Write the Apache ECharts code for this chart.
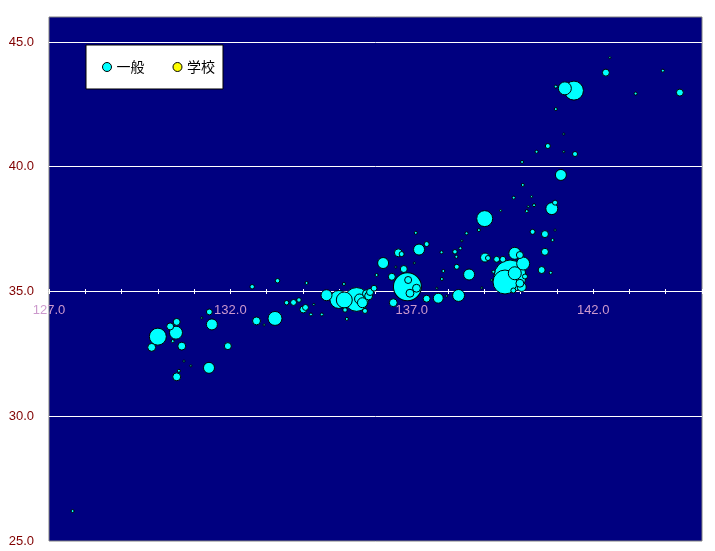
<!DOCTYPE html>
<html>
<head>
<meta charset="utf-8">
<script src="https://cdn.jsdelivr.net/npm/echarts@6/dist/echarts.min.js"></script>
<style>
html,body{margin:0;padding:0;background:#fff;}
#c{width:715px;height:551px;}
</style>
</head>
<body>
<div id="c"></div>
<script>
// ---- data ----
const seriesNames = ['一般', '学校'];
const xTickStart = 127, xTickEnd = 145, xTickStep = 1, xLabelStep = 5;
const yTickStart = 25, yTickEnd = 46, yTickStep = 5;
const xCrossAt = 35;

// 一般: longitude (x), latitude (y), bubble size value
const ippanX = [127.65,144.39,142.35,143.92,143.17,142.46,141.47,141.22,140.97,140.97,141.19,140.75,140.44,141.19,141.50,140.04,141.11,140.06,139.81,140.30,140.37,140.17,140.21,139.45,140.86,140.95,139.01,138.51,138.85,140.33,140.67,140.95,140.88,140.67,140.58,140.83,139.84,139.98,139.34,139.51,139.02,139.10,140.07,138.58,139.25,139.20,139.71,139.57,139.84,139.98,140.03,140.12,139.80,138.29,138.93,137.69,137.96,137.73,137.41,138.19,138.23,138.34,138.38,137.82,138.24,137.87,137.83,137.20,137.41,137.11,137.07,136.63,136.72,136.21,136.78,136.56,136.45,136.03,136.88,136.90,137.13,136.95,136.49,135.71,135.16,135.21,135.13,134.65,134.99,135.14,135.48,135.75,135.81,135.56,135.64,135.85,135.96,132.60,133.30,134.10,133.55,133.74,133.89,134.01,134.07,134.22,134.52,134.30,132.72,133.23,132.93,131.42,131.49,131.21,130.00,129.83,130.34,130.52,130.50,130.41,130.66,131.93,131.41,130.52,130.58,130.72,130.91];
const ippanY = [26.20,42.97,43.77,43.85,42.93,44.37,43.05,43.14,43.21,42.31,41.31,40.83,40.60,40.60,40.51,40.19,39.67,39.27,38.76,38.80,38.46,38.22,38.40,38.24,38.32,38.56,37.92,37.33,37.46,37.39,37.30,37.46,37.06,36.59,35.86,35.75,36.53,36.46,36.29,36.29,36.36,36.34,36.12,35.68,35.79,35.46,35.62,35.38,35.73,35.33,35.18,35.60,35.04,34.84,35.14,35.13,34.82,34.73,34.71,36.59,36.39,36.73,37.03,36.57,35.99,35.82,35.50,36.68,36.90,37.35,36.14,36.55,36.50,36.14,35.90,35.98,35.59,35.66,35.19,35.46,35.13,34.93,34.55,34.22,34.26,33.90,35.30,34.85,34.68,34.66,34.68,34.91,34.82,34.70,34.55,34.98,35.13,35.19,35.43,35.34,34.55,34.56,34.66,34.28,34.36,34.08,34.08,34.48,33.82,33.92,33.66,34.18,33.68,33.94,33.19,32.76,33.60,33.78,33.35,33.01,32.81,32.81,31.94,31.58,31.82,32.21,32.02];
const ippanSize = [1,9,9,1,1,0.3,81,36,1,1,0.3,4,1,0.3,4,1,25,1,1,0.3,1,1,0.3,0.3,30,4,56,1,1,4,9,0.3,1,9,9,1,30,9,6,6,16,4,36,25,1,0.3,240,132,36,12,16,4,4,30,0.3,0.3,0.3,20,9,3,1,1,0.3,1,4,1,1,25,4,1,0.3,12,4,25,9,0.3,9,1,182,9,12,12,12,4,3,1,1,25,72,56,130,12,12,20,20,9,6,3,3,1,3,6,3,9,6,1,1,0.3,12,42,0.3,6,25,0.3,64,12,9,9,36,1,12,9,25,12,1,0.3,0.3];

// 学校: no visible points
const gakkouX = [];
const gakkouY = [];
const gakkouSize = [];

// ---- build ----
function rows(xs, ys, ss) {
  const r = xs.map((x, i) => [x, ys[i], ss[i]]);
  r.sort((a, b) => b[2] - a[2]);
  return r;
}
const W = 715, H = 551;
const gLeft = 49, gRight = 13, gTop = 17, gBottom = 10;
const plotH = H - gTop - gBottom;
const crossTop = Math.round(gTop + (yTickEnd - xCrossAt) / (yTickEnd - yTickStart) * plotH);

const bubbleSize = d => 2 * Math.sqrt(d[2]) + 1;
const labelFont = 'Liberation Sans, Arial, sans-serif';
const xFmt = v => ((Math.round(v - xTickStart) % xLabelStep) === 0 ? v.toFixed(1) : '');

const chart = echarts.init(document.getElementById('c'), null, {renderer: 'canvas'});
chart.setOption({
  animation: false,
  backgroundColor: '#ffffff',
  grid: [
    {left: gLeft, right: gRight, top: gTop, bottom: gBottom, show: true,
     backgroundColor: '#000080', borderColor: '#808080', borderWidth: 1},
    {left: gLeft, right: gRight, top: crossTop, bottom: gBottom, show: false},
    {left: gLeft, right: gRight, top: crossTop, bottom: gBottom, show: false}
  ],
  legend: {
    data: seriesNames,
    left: 86, top: 45,
    orient: 'horizontal',
    padding: [15, 8, 15, 16],
    itemGap: 28,
    itemWidth: 9, itemHeight: 9,
    icon: 'circle',
    backgroundColor: '#ffffff',
    borderColor: '#000000', borderWidth: 1,
    itemStyle: {borderColor: '#000000', borderWidth: 1},
    textStyle: {fontSize: 14, color: '#000000', fontFamily: 'Noto Sans CJK JP'}
  },
  xAxis: [
    {type: 'value', gridIndex: 0, min: xTickStart, max: xTickEnd, show: false},
    {type: 'value', gridIndex: 1, position: 'top', min: xTickStart, max: xTickEnd, interval: xTickStep,
     axisLine: {show: true, onZero: false, lineStyle: {color: '#ffffff', width: 1}},
     axisTick: {show: true, inside: false, length: 2, lineStyle: {color: '#ffffff', width: 1}},
     axisLabel: {inside: true, margin: 13, color: '#cc99cc', fontSize: 13, fontFamily: labelFont, formatter: xFmt},
     splitLine: {show: false}},
    {type: 'value', gridIndex: 2, position: 'top', min: xTickStart, max: xTickEnd, interval: xTickStep,
     axisLine: {show: false, onZero: false},
     axisTick: {show: true, inside: true, length: 3, lineStyle: {color: '#ffffff', width: 1}},
     axisLabel: {show: false},
     splitLine: {show: false}}
  ],
  yAxis: [
    {type: 'value', gridIndex: 0, min: yTickStart, max: yTickEnd, interval: yTickStep,
     axisLine: {show: false}, axisTick: {show: false},
     axisLabel: {color: '#800000', fontSize: 13, fontFamily: labelFont, margin: 15,
       showMaxLabel: false, formatter: v => v.toFixed(1)},
     splitLine: {show: true, showMinLine: false, showMaxLine: false,
       lineStyle: {color: '#ffffff', width: 1}}},
    {type: 'value', gridIndex: 1, show: false, min: 0, max: 1},
    {type: 'value', gridIndex: 2, show: false, min: 0, max: 1}
  ],
  series: [
    {name: seriesNames[0], type: 'scatter', xAxisIndex: 0, yAxisIndex: 0,
     data: rows(ippanX, ippanY, ippanSize),
     symbol: 'circle', symbolSize: bubbleSize,
     itemStyle: {color: '#00ffff', borderColor: '#000000', borderWidth: 1, opacity: 1},
     emphasis: {disabled: true}},
    {name: seriesNames[1], type: 'scatter', xAxisIndex: 0, yAxisIndex: 0,
     data: rows(gakkouX, gakkouY, gakkouSize),
     symbol: 'circle', symbolSize: bubbleSize,
     itemStyle: {color: '#ffff00', borderColor: '#000000', borderWidth: 1, opacity: 1},
     emphasis: {disabled: true}}
  ]
});
</script>
</body>
</html>
